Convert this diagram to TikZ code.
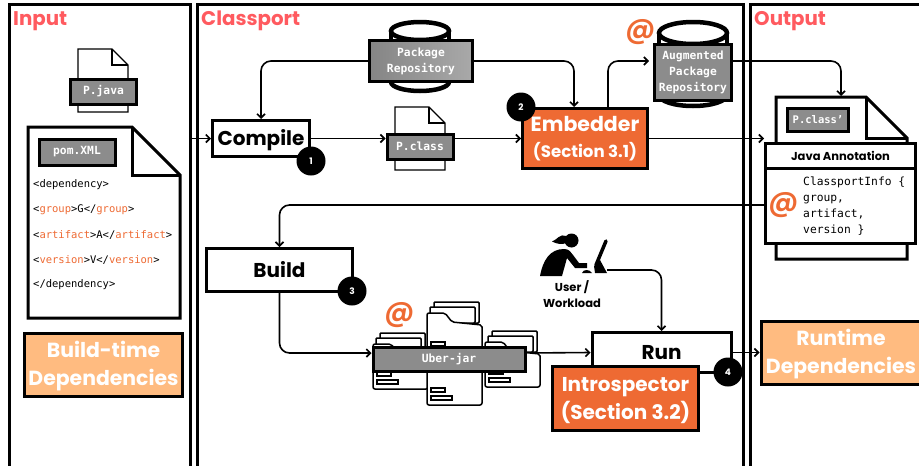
\documentclass[tikz,border=0pt]{standalone}
\usepackage{fontspec}
\setmainfont{Poppins}
\setmonofont{DejaVu Sans Mono}
\newfontfamily\atfont{Poppins SemiBold}
\usetikzlibrary{backgrounds,arrows.meta}
\definecolor{coral}{HTML}{FF5A5F}
\definecolor{tagorange}{HTML}{EE6A33}
\definecolor{peach}{HTML}{FFBB80}
\definecolor{filegray}{HTML}{8C8C8C}
\newcommand{\docpage}[6]{
	\draw[line width=#6,fill=white] (#1,#2) -- ({#3-#5},#2) -- (#3,{#2+#5}) -- (#3,#4) -- (#1,#4) -- cycle;
	\draw[line width=#6] ({#3-#5},#2) -- ({#3-#5},{#2+#5}) -- (#3,{#2+#5});
}
\newcommand{\repodrum}[6]{
	\draw[line width=#6,fill=white] (#1,#3) ellipse [x radius=#4,y radius=#5];
	\fill[white] ({#1-#4},#2) rectangle ({#1+#4},#3);
	\draw[line width=#6] ({#1-#4},#2) -- ({#1-#4},#3) ({#1+#4},#2) -- ({#1+#4},#3);
	\draw[line width=#6,fill=white] (#1,#2) ellipse [x radius=#4,y radius=#5];
}
\newcommand{\lowered}{\rule{0pt}{19pt}}
\tikzset{
	panel/.style={line width=3},
	paneltitle/.style={text=coral,anchor=west,inner sep=0pt,font=\fontsize{19.8}{23}\selectfont\bfseries},
	filetag/.style={draw,line width=3,fill=filegray,text=white,inner sep=0pt,align=center,font=\fontsize{11.3}{16}\selectfont\ttfamily\bfseries},
	stepbox/.style={draw,line width=3,fill=white,inner sep=0pt,text height=18,text depth=4,font=\fontsize{20}{26}\selectfont\bfseries},
	toolbox/.style={draw,line width=3,fill=tagorange,text=white,inner sep=0pt,align=center,font=\fontsize{20}{28}\selectfont\bfseries},
	depbox/.style={draw,line width=3,fill=peach,text=white,inner sep=0pt,align=center,font=\fontsize{20.4}{28}\selectfont\bfseries},
	badge/.style={circle,fill=black,text=white,inner sep=0pt,minimum size=29,font=\fontsize{9}{9}\selectfont\bfseries},
	xmlline/.style={anchor=west,inner sep=0pt,font=\fontsize{10.5}{12}\selectfont\ttfamily},
	atsign/.style={text=tagorange,inner sep=0pt,font=\fontsize{29}{29}\selectfont\atfont},
	flow/.style={-{Straight Barb[length=4,width=8]},line width=1.6,rounded corners=10},
	sheet/.style={line width=1.5,fill=white,rounded corners=1}
}
\begin{document}
\begin{tikzpicture}[x=1pt,y=-1pt]
		\useasboundingbox (0,0) rectangle (919,466);
		\node[paneltitle] (inputtitle) at (13,21) {Input};
		\node[paneltitle] (classporttitle) at (201,21) {Classport};
		\node[paneltitle] (outputtitle) at (754,21) {Output};

		\docpage{78}{49}{128}{112}{16}{1.2}
		\node[filetag,minimum width=66,minimum height=25] (pjava) at (103.5,91.5) {P.java};
		\docpage{28}{127}{180}{318}{48}{3}
		\node[filetag,minimum width=76,minimum height=26] (pomxml) at (77,152) {pom.XML};
		\foreach \dep [count=\i] in {
			{<dependency>},
			{<\textcolor{tagorange}{group}>G</\textcolor{tagorange}{group}>},
			{<\textcolor{tagorange}{artifact}>A</\textcolor{tagorange}{artifact}>},
			{<\textcolor{tagorange}{version}>V</\textcolor{tagorange}{version}>},
			{</dependency>}}
		{\node[xmlline] (dep\i) at (33,{159+25.2*\i}) {\dep};}
		\node[depbox,minimum width=158,minimum height=63] (buildtime) at (103.5,365) {\lowered Build-time\\Dependencies};

		\repodrum{420}{31}{82}{29}{9}{4.5}
		\node[filetag,minimum width=103,minimum height=41,left color=filegray!95!black,right color=filegray!75!white] (repo) at (421,61) {Package\\Repository};
		\node[stepbox,minimum width=97,minimum height=36] (compile) at (261,138.5) {Compile};
		\node[badge] (one) at (311,161) {1};
		\docpage{395}{107}{445}{170}{16}{1.2}
		\node[filetag,minimum width=66,minimum height=25] (pclass) at (420,146.5) {P.class};
		\node[toolbox,minimum width=125,minimum height=60,font=\fontsize{20.5}{26}\selectfont\bfseries] (embedder) at (585,138.5) {Embedder\\{\fontsize{16.6}{26}\selectfont(Section 3.1)}};
		\node[badge] (two) at (521,107) {2};
		\repodrum{693}{33}{95}{34}{11}{4.5}
		\node[filetag,minimum width=77,minimum height=56] (augrepo) at (693,72) {Augmented\\Package\\Repository};
		\node[atsign] (augat) at (641,32) {@};

		\docpage{776}{97}{907}{259}{41}{3}
		\node[filetag,minimum width=61,minimum height=23,font=\fontsize{10.5}{12}\selectfont\ttfamily\bfseries] (pclassout) at (818,119.5) {P.class’};
		\node[draw,line width=3,fill=white,minimum width=150,minimum height=25,inner sep=0pt,font=\fontsize{11.5}{12}\selectfont\bfseries] (annhead) at (840.5,155.5) {Java Annotation};
		\node[draw,line width=3,fill=white,minimum width=150,minimum height=75,inner sep=0pt] (annbody) at (840.5,205.5) {};
		\node[xmlline,align=left,font=\fontsize{11.3}{16}\selectfont\ttfamily] (anntext) at (803,206) {ClassportInfo \{\\group,\\artifact,\\version \}};
		\node[atsign] (annat) at (784,205) {@};

		\node[stepbox,minimum width=146,minimum height=43] (build) at (279.5,270) {Build};
		\node[badge] (three) at (352,291) {3};
		\foreach \fx/\fy/\fh in {373/344/45,485/342/45,427/313/92}
		{
			\draw[sheet] ({\fx+7},{\fy-11}) rectangle ({\fx+52},{\fy+10});
			\draw[sheet] ({\fx+3},{\fy-6}) rectangle ({\fx+48},{\fy+10});
			\draw[line width=1.5,fill=white,rounded corners=2] (\fx,{\fy+\fh}) -- (\fx,\fy) -- ({\fx+18},\fy) -- ({\fx+25},{\fy+9}) -- ({\fx+55},{\fy+12}) -- ({\fx+55},{\fy+\fh}) -- cycle;
			\draw[line width=1.5] ({\fx+4},{\fy+\fh-17}) rectangle ({\fx+18},{\fy+\fh-13});
			\draw[line width=1.5] ({\fx+4},{\fy+\fh-9}) rectangle ({\fx+25},{\fy+\fh-5});
		}
		\draw[line width=1.5] (431,342) rectangle (445,346);
		\node[filetag,minimum width=152,minimum height=24] (uberjar) at (449,359) {Uber-jar};
		\node[atsign] (jarat) at (400,315) {@};

		\fill (571.5,240.5) circle (7);
		\fill (566,236) .. controls (560,233) and (557,240) .. (552,241.5) .. controls (557,244) and (562,245) .. (566,243) -- cycle;
		\fill (540,276) .. controls (543,260) and (550,249) .. (564,249) .. controls (569,249) and (571,252) .. (573,255) -- (579,263) -- (587,263) -- (587,268) -- (575,268) -- (567,258) -- (562,276) -- cycle;
		\fill (582,273) .. controls (583,269) and (590,269) .. (592,273) -- cycle;
		\draw[line width=3.5,line cap=round] (606,241) -- (596,265);
		\fill (594,266) -- (600,260) -- (607,273) -- (595,273) -- cycle;
		\node[inner sep=0pt,align=center,font=\fontsize{11.5}{16}\selectfont\bfseries] (user) at (572,294) {User /\\Workload};
		\coordinate (desk) at (607,270);

		\node[stepbox,minimum width=139,minimum height=40] (run) at (661.5,352.5) {Run};
		\node[toolbox,minimum width=146,minimum height=64] (introspector) at (625.5,398) {\lowered Introspector\\(Section 3.2)};
		\node[badge] (four) at (728,372) {4};
		\node[depbox,minimum width=160,minimum height=63] (runtime) at (841,352.5) {\lowered Runtime\\Dependencies};

		\coordinate (inputedge) at (190,138.5);
		\coordinate (classin) at (764,138.5);
		\coordinate (classtop) at (841,96);
		\begin{pgfonlayer}{background}
		\draw[panel] (9,470) -- (9,4) -- (190,4) -- (190,470);
		\draw[panel] (197,470) -- (197,4) -- (743,4) -- (743,470);
		\draw[panel] (750,470) -- (750,4) -- (925,4);
		\draw[flow] (inputedge) -- (compile.west);
		\draw[flow] (repo.west) -| (compile.north);
		\draw[flow] (repo.east) -| ([xshift=-11]embedder.north);
		\draw[flow] (compile.east) -- (pclass.west |- compile.east);
		\draw[flow] (pclass.east |- embedder.west) -- (embedder.west);
		\draw[flow] ([xshift=23]embedder.north) |- ([xshift=-4,yshift=11]augrepo.west);
		\draw[flow] ([yshift=11]augrepo.east) -| (classtop);
		\draw[flow] (embedder.east) -- (classin);
		\draw[flow] ([yshift=0.5]annbody.west) -| (build.north);
		\draw[flow] (build.south) |- ([yshift=6]uberjar.west);
		\draw[flow] ([yshift=6]uberjar.east) -- ([yshift=0]run.west |- run.east);
		\draw[flow] (desk) -| (run.north);
		\draw[flow] (run.east) -- (runtime.west);
		\draw[line width=1.6] (introspector.east |- four) -- (four);
		\end{pgfonlayer}
		\end{tikzpicture}
\end{document}
